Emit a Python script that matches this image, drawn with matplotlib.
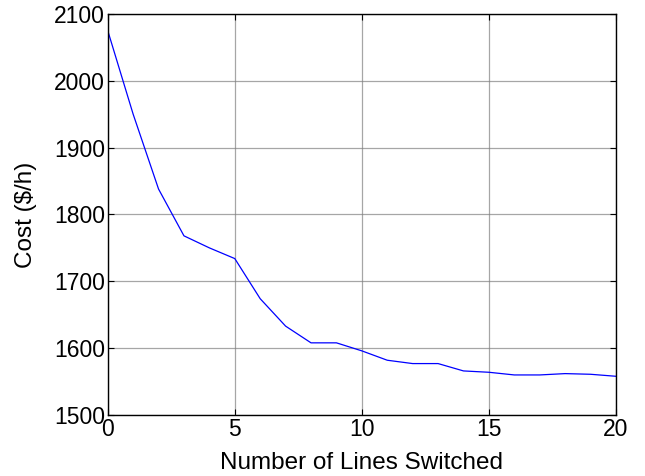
import matplotlib
matplotlib.use("Agg")
import matplotlib.pyplot as plt

# cost vs number of switched lines
lines_switched = list(range(21))
cost = [2075, 1950, 1838, 1768, 1750, 1734, 1674, 1633, 1608, 1608, 1596,
        1582, 1577, 1577, 1566, 1564, 1560, 1560, 1562, 1561, 1558]

plt.rcParams['font.family'] = ['Liberation Sans', 'DejaVu Sans']

fig = plt.figure(figsize=(6.45, 4.76), dpi=100)
ax = fig.add_axes([0.167, 0.128, 0.788, 0.843])

ax.plot(lines_switched, cost, color='blue', linewidth=0.9)

ax.set_xlim(0, 20)
ax.set_ylim(1500, 2100)
ax.set_xticks([0, 5, 10, 15, 20])
ax.set_yticks(range(1500, 2101, 100))
ax.grid(True, color='#808080', linewidth=0.9, alpha=0.7)
ax.tick_params(direction='in', top=True, right=True, labelsize=16.5, length=4, pad=2)
for s in ax.spines.values():
    s.set_linewidth(1.0)

ax.set_xlabel('Number of Lines Switched', fontsize=17.5, labelpad=8)
ax.set_ylabel('Cost ($/h)', fontsize=17.5, labelpad=12)

fig.savefig('out.png', dpi=100)
